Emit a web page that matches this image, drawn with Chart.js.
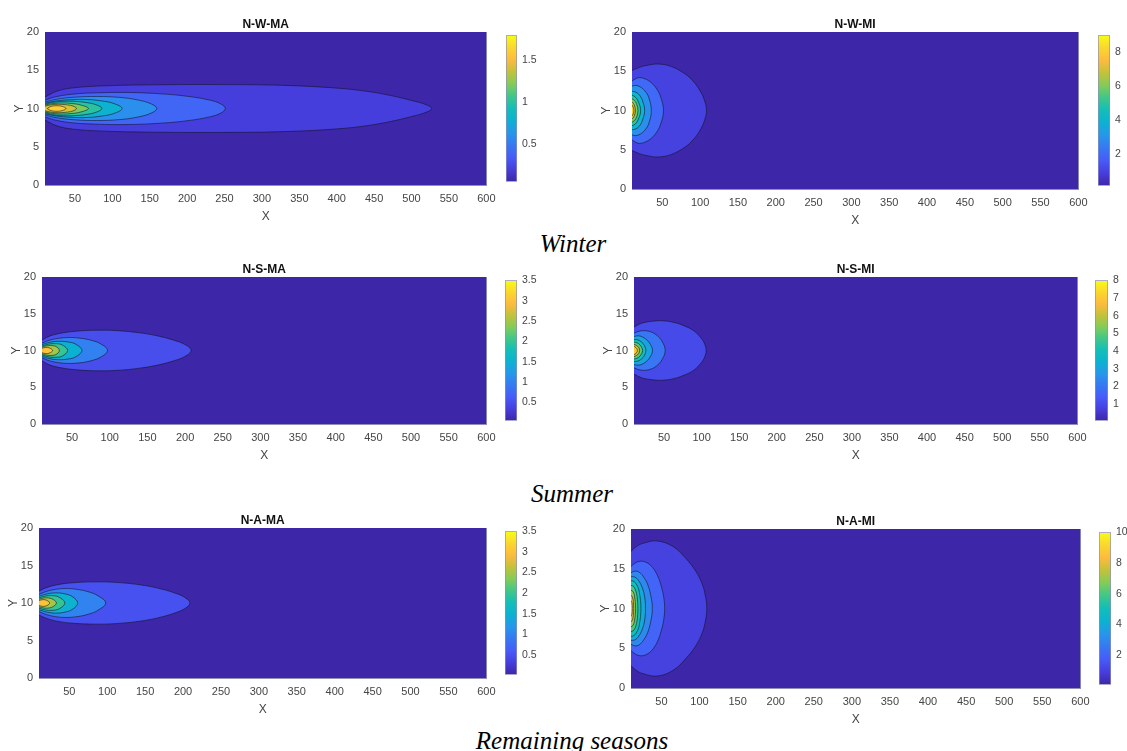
<!DOCTYPE html>
<html>
<head>
<meta charset="utf-8">
<script src="https://cdn.jsdelivr.net/npm/chart.js@4.4.1/dist/chart.umd.min.js"></script>
<style>
  html, body { margin: 0; padding: 0; background: #ffffff; }
  body { width: 1127px; height: 751px; position: relative; overflow: hidden; }
  canvas { position: absolute; }
  .cap { position: absolute; font-family: "Liberation Serif", "Times New Roman", serif; font-style: italic;
         font-size: 25px; line-height: 1; color: #000; transform: translate(-50%, -50%); white-space: nowrap; }
</style>
</head>
<body>
<div class="cap" style="left:573px; top:243px;">Winter</div>
<div class="cap" style="left:572px; top:493px;">Summer</div>
<div class="cap" style="left:572px; top:740px;">Remaining seasons</div>
<script>
// ---------------- DATA ----------------
const panelTitles = ["N-W-MA", "N-W-MI", "N-S-MA", "N-S-MI", "N-A-MA", "N-A-MI"];
const xTickValues = [50, 100, 150, 200, 250, 300, 350, 400, 450, 500, 550, 600];
const yTickValues = [0, 5, 10, 15, 20];
const xDomain = [10, 600];
const yDomain = [0, 20];
const plumeAxisY = 10;

// colour range of each colour bar [min, max]
const nwmaColorRange = [0.054, 1.79];
const nwmiColorRange = [0.17, 9.0];
const nsmaColorRange = [0.055, 3.5];
const nsmiColorRange = [0.07, 8.0];
const namaColorRange = [0.02, 3.5];
const namiColorRange = [0.06, 10.0];

// colour bar tick labels
const nwmaBarTicks = [0.5, 1, 1.5];
const nwmiBarTicks = [2, 4, 6, 8];
const nsmaBarTicks = [0.5, 1, 1.5, 2, 2.5, 3, 3.5];
const nsmiBarTicks = [1, 2, 3, 4, 5, 6, 7, 8];
const namaBarTicks = [0.5, 1, 1.5, 2, 2.5, 3, 3.5];
const namiBarTicks = [2, 4, 6, 8, 10];

// contour levels, contour x positions and half-widths (distance from y = 10)
const nwmaLevels = [0.2, 0.4, 0.6, 0.8, 1.0, 1.2, 1.4, 1.6];
const nwmaX = [
  [10, 26, 48, 92, 160, 240, 330, 401, 440, 472, 500, 518, 527],
  [10, 25, 50, 80, 115, 160, 200, 230, 245, 251],
  [10, 25, 50, 80, 110, 135, 152, 159.5],
  [10, 25, 45, 65, 85, 102, 113],
  [10, 20, 35, 50, 65, 78, 86],
  [10, 20, 32, 45, 58, 68],
  [10, 18, 28, 40, 48, 52],
  [13, 18, 26, 33, 38]
];
const nwmaH = [
  [1.5, 2.27, 2.7, 2.97, 3.1, 3.13, 3.02, 2.66, 2.25, 1.7, 1.05, 0.55, 0],
  [1.1, 1.55, 1.9, 2.05, 2.1, 1.95, 1.6, 1.1, 0.6, 0],
  [0.85, 1.2, 1.48, 1.57, 1.45, 1.1, 0.6, 0],
  [0.7, 0.98, 1.15, 1.18, 1.0, 0.65, 0],
  [0.55, 0.8, 0.94, 0.93, 0.78, 0.5, 0],
  [0.45, 0.64, 0.72, 0.66, 0.45, 0],
  [0.3, 0.48, 0.55, 0.47, 0.3, 0],
  [0, 0.28, 0.36, 0.28, 0]
];

const nwmiLevels = [1, 2, 3, 4, 5, 6, 7, 8];
const nwmiX = [
  [10, 20, 30, 45, 62, 81, 92, 100, 105, 108.5],
  [10, 15, 20, 28, 36, 43, 48, 51.6],
  [10, 15, 21, 27, 32, 35.5],
  [10, 15, 20, 24, 26.7],
  [10, 14, 18, 21.4],
  [10, 13, 16, 17.9],
  [10, 12.5, 14.5],
  [10, 11.5, 12.5]
];
const nwmiH = [
  [5.1, 5.5, 5.75, 5.92, 5.6, 4.6, 3.6, 2.5, 1.5, 0],
  [3.75, 4.05, 4.2, 4.0, 3.5, 2.7, 1.7, 0],
  [3.1, 3.2, 3.0, 2.5, 1.7, 0],
  [2.45, 2.35, 1.95, 1.2, 0],
  [1.95, 1.75, 1.2, 0],
  [1.5, 1.3, 0.85, 0],
  [1.1, 0.8, 0],
  [0.7, 0.45, 0]
];

const nsmaLevels = [0.5, 1, 1.5, 2, 2.5, 3];
const nsmaX = [
  [10, 20, 35, 55, 82, 110, 140, 165, 185, 200, 208],
  [10, 20, 32, 45, 60, 75, 88, 97],
  [10, 20, 32, 45, 55, 63],
  [10, 18, 28, 37, 44],
  [10, 17, 25, 30, 33],
  [10, 15, 20, 24]
];
const nsmaH = [
  [1.4, 1.95, 2.35, 2.62, 2.76, 2.7, 2.4, 1.95, 1.4, 0.8, 0],
  [1.0, 1.4, 1.65, 1.76, 1.68, 1.4, 0.9, 0],
  [0.8, 1.1, 1.25, 1.15, 0.85, 0],
  [0.6, 0.85, 0.93, 0.75, 0],
  [0.45, 0.65, 0.65, 0.45, 0],
  [0.3, 0.42, 0.35, 0]
];

const nsmiLevels = [1, 2, 3, 4, 5, 6, 7];
const nsmiX = [
  [10, 20, 32, 47, 62, 77, 90, 100, 104, 106],
  [10, 16, 23, 32, 40, 47, 51.5],
  [10, 16, 22, 28, 32, 34.6],
  [10, 15, 20, 24, 25.8],
  [10, 14, 18, 21.4],
  [10, 13, 16, 17.5],
  [10, 12.5, 14.5]
];
const nsmiH = [
  [3.2, 3.7, 3.95, 4.05, 3.85, 3.35, 2.65, 1.6, 0.9, 0],
  [2.35, 2.6, 2.7, 2.55, 2.1, 1.3, 0],
  [1.9, 2.0, 1.8, 1.35, 0.8, 0],
  [1.5, 1.45, 1.15, 0.65, 0],
  [1.15, 1.05, 0.75, 0],
  [0.85, 0.7, 0.45, 0],
  [0.6, 0.4, 0]
];

const namaLevels = [0.5, 1, 1.5, 2, 2.5, 3];
const namaX = [
  [10, 20, 35, 55, 85, 115, 145, 170, 190, 203, 209],
  [10, 20, 32, 45, 60, 75, 88, 98],
  [10, 20, 32, 44, 54, 61],
  [10, 18, 27, 36, 44],
  [10, 17, 24, 29, 33],
  [10, 15, 20, 24]
];
const namaH = [
  [1.6, 2.05, 2.45, 2.7, 2.82, 2.72, 2.4, 1.9, 1.3, 0.7, 0],
  [1.15, 1.55, 1.82, 1.93, 1.82, 1.5, 0.95, 0],
  [0.9, 1.2, 1.35, 1.22, 0.85, 0],
  [0.68, 0.92, 0.98, 0.8, 0],
  [0.5, 0.68, 0.65, 0.45, 0],
  [0.33, 0.45, 0.36, 0]
];

const namiLevels = [1, 2, 3, 4, 5, 6, 7, 8, 9];
const namiX = [
  [10, 18, 26, 44, 65, 82, 95, 103, 107, 109.5],
  [10, 16, 22, 30, 38, 45, 50, 53, 54.2],
  [10, 15, 21, 27, 32, 36, 38],
  [10, 15, 20, 25, 28, 29],
  [10, 14, 18, 21, 23],
  [10, 13, 16, 18, 19],
  [10, 12.5, 14.5, 16],
  [10, 12, 13.5],
  [10, 11.2, 11.8]
];
const namiH = [
  [7.2, 7.85, 8.2, 8.5, 7.8, 6.3, 4.7, 3.2, 1.9, 0],
  [5.3, 5.75, 5.95, 5.8, 5.2, 4.1, 2.7, 1.4, 0],
  [4.5, 4.7, 4.55, 3.9, 3.0, 1.6, 0],
  [4.0, 3.95, 3.5, 2.55, 1.4, 0],
  [3.5, 3.4, 2.9, 2.0, 0],
  [2.9, 2.8, 2.3, 1.5, 0],
  [2.3, 2.15, 1.6, 0],
  [1.65, 1.45, 0],
  [1.0, 0.75, 0]
];

// ---------------- STYLE / LAYOUT ----------------
const parulaStops = [
  [62, 38, 168], [70, 62, 220], [71, 91, 249], [55, 120, 242], [39, 150, 235],
  [12, 177, 210], [18, 190, 185], [62, 199, 138], [129, 204, 89], [195, 194, 58],
  [252, 187, 62], [250, 215, 45], [249, 251, 21]
];
function parula(t) {
  t = Math.max(0, Math.min(1, t));
  const n = parulaStops.length - 1;
  const f = t * n, i = Math.min(Math.floor(f), n - 1), u = f - i;
  const a = parulaStops[i], b = parulaStops[i + 1];
  const c = a.map((v, k) => Math.round(v + (b[k] - v) * u));
  return `rgb(${c[0]},${c[1]},${c[2]})`;
}

const boxes = [
  { L: 45,  R: 489,  T: 32,  B: 185, cbL: 506,  cbR: 517 },
  { L: 632, R: 1081, T: 32,  B: 189, cbL: 1098, cbR: 1110 },
  { L: 42,  R: 489,  T: 277, B: 424, cbL: 505,  cbR: 517 },
  { L: 634, R: 1080, T: 277, B: 424, cbL: 1095, cbR: 1108 },
  { L: 39,  R: 489,  T: 528, B: 678, cbL: 505,  cbR: 517 },
  { L: 631, R: 1083, T: 529, B: 688, cbL: 1099, cbR: 1111 }
];
const Wy = 45, Ht = 30, Hb = 42, Pr = 14;
const frameColor = '#9090b8';
const tickColor = '#454545';
const lineColor = 'rgba(20,20,45,0.85)';
Chart.defaults.font.family = "'Liberation Sans', Arial, Helvetica, sans-serif";

const panels = [
  { X: nwmaX, H: nwmaH, levels: nwmaLevels, range: nwmaColorRange, barTicks: nwmaBarTicks },
  { X: nwmiX, H: nwmiH, levels: nwmiLevels, range: nwmiColorRange, barTicks: nwmiBarTicks },
  { X: nsmaX, H: nsmaH, levels: nsmaLevels, range: nsmaColorRange, barTicks: nsmaBarTicks },
  { X: nsmiX, H: nsmiH, levels: nsmiLevels, range: nsmiColorRange, barTicks: nsmiBarTicks },
  { X: namaX, H: namaH, levels: namaLevels, range: namaColorRange, barTicks: namaBarTicks },
  { X: namiX, H: namiH, levels: namiLevels, range: namiColorRange, barTicks: namiBarTicks }
];

function outline(xs, hs) {
  const pts = xs.map((x, i) => ({ x: x, y: plumeAxisY + hs[i] }));
  for (let i = xs.length - 1; i >= 0; i--) {
    if (i === xs.length - 1 && hs[i] === 0) continue;
    pts.push({ x: xs[i], y: plumeAxisY - hs[i] });
  }
  return pts;
}

function makeCanvas(left, top, w, h) {
  const c = document.createElement('canvas');
  c.width = w; c.height = h;
  c.style.left = left + 'px'; c.style.top = top + 'px';
  c.style.width = w + 'px'; c.style.height = h + 'px';
  document.body.appendChild(c);
  return c;
}

panels.forEach((p, idx) => {
  const b = boxes[idx];
  const [cmin, cmax] = p.range;
  const datasets = [];
  datasets.push({
    data: [{ x: xDomain[0], y: yDomain[0] }, { x: xDomain[1], y: yDomain[0] },
           { x: xDomain[1], y: yDomain[1] }, { x: xDomain[0], y: yDomain[1] }],
    fill: 'shape', backgroundColor: parula(0), borderWidth: 0, tension: 0,
    pointRadius: 0, order: 100, clip: 0
  });
  p.levels.forEach((lv, k) => {
    datasets.push({
      data: outline(p.X[k], p.H[k]),
      fill: 'shape',
      backgroundColor: parula((lv - cmin) / (cmax - cmin)),
      borderColor: lineColor, borderWidth: 0.7,
      tension: 0.4, pointRadius: 0, order: 99 - k, clip: 0
    });
  });

  const w = Wy + (b.R - b.L) + Pr;
  const h = Ht + (b.B - b.T) + Hb;
  const cv = makeCanvas(b.L - Wy, b.T - Ht, w, h);
  new Chart(cv, {
    type: 'line',
    data: { datasets: datasets },
    options: {
      responsive: false, animation: false, devicePixelRatio: 1, events: [],
      layout: { padding: { left: 0, right: Pr, top: 0, bottom: 0 }, autoPadding: false },
      plugins: { legend: { display: false }, tooltip: { enabled: false }, title: { display: false } },
      scales: {
        x: {
          type: 'linear', position: 'bottom', min: xDomain[0], max: xDomain[1],
          afterBuildTicks: s => { s.ticks = xTickValues.map(v => ({ value: v })); },
          afterFit: s => { s.height = Hb; },
          grid: { display: false, drawTicks: false },
          border: { display: true, color: frameColor, width: 1 },
          ticks: { color: tickColor, font: { size: 11 }, padding: 7.5, maxRotation: 0, autoSkip: false,
                   callback: v => String(v) },
          title: { display: true, text: 'X', color: tickColor, font: { size: 12 }, padding: { top: 0, bottom: 3 } }
        },
        xTop: {
          type: 'linear', position: 'top', min: xDomain[0], max: xDomain[1],
          afterFit: s => { s.height = Ht; },
          grid: { display: false, drawTicks: false },
          border: { display: true, color: frameColor, width: 1 },
          ticks: { display: false },
          title: { display: true, text: panelTitles[idx], color: '#111111',
                   font: { size: 12, weight: 'bold' }, padding: { top: 15, bottom: 0 } }
        },
        y: {
          type: 'linear', position: 'left', min: yDomain[0], max: yDomain[1],
          afterBuildTicks: s => { s.ticks = yTickValues.map(v => ({ value: v })); },
          afterFit: s => { s.width = Wy; },
          grid: { display: false, drawTicks: false },
          border: { display: true, color: frameColor, width: 1 },
          ticks: { color: tickColor, font: { size: 11 }, padding: 6, autoSkip: false, callback: v => String(v) },
          title: { display: true, text: 'Y', color: tickColor, font: { size: 12 }, padding: { top: 12.5, bottom: 0 } }
        },
        yRight: {
          type: 'linear', position: 'right', min: yDomain[0], max: yDomain[1],
          afterFit: s => { s.width = 0; },
          grid: { display: false, drawTicks: false },
          border: { display: true, color: frameColor, width: 1 },
          ticks: { display: false }
        }
      }
    }
  });

  // colour bar
  const padV = 8, labW = 34;
  const cbW = b.cbR - b.cbL;
  const cbv = makeCanvas(b.cbL, b.T - padV, cbW + labW, (b.B - b.T) + 2 * padV);
  new Chart(cbv, {
    type: 'bar',
    data: {
      labels: [''],
      datasets: [{
        data: [[cmin, cmax]],
        backgroundColor: ctx => {
          const ch = ctx.chart, area = ch.chartArea;
          if (!area) return parula(0.5);
          const g = ch.ctx.createLinearGradient(0, area.bottom, 0, area.top);
          parulaStops.forEach((s, i) => g.addColorStop(i / (parulaStops.length - 1), `rgb(${s[0]},${s[1]},${s[2]})`));
          return g;
        },
        borderColor: frameColor, borderWidth: 1, borderSkipped: false,
        barPercentage: 1, categoryPercentage: 1
      }]
    },
    options: {
      responsive: false, animation: false, devicePixelRatio: 1, events: [],
      layout: { padding: { left: 0, right: 0, top: padV, bottom: padV }, autoPadding: false },
      plugins: { legend: { display: false }, tooltip: { enabled: false } },
      scales: {
        x: { display: false },
        y: {
          position: 'right', min: cmin, max: cmax,
          afterBuildTicks: s => { s.ticks = p.barTicks.map(v => ({ value: v })); },
          afterFit: s => { s.width = labW; },
          grid: { display: false, drawTicks: false },
          border: { display: false },
          ticks: { color: tickColor, font: { size: 10.5 }, padding: 5, autoSkip: false, callback: v => String(v) }
        }
      }
    }
  });
});
</script>
</body>
</html>
